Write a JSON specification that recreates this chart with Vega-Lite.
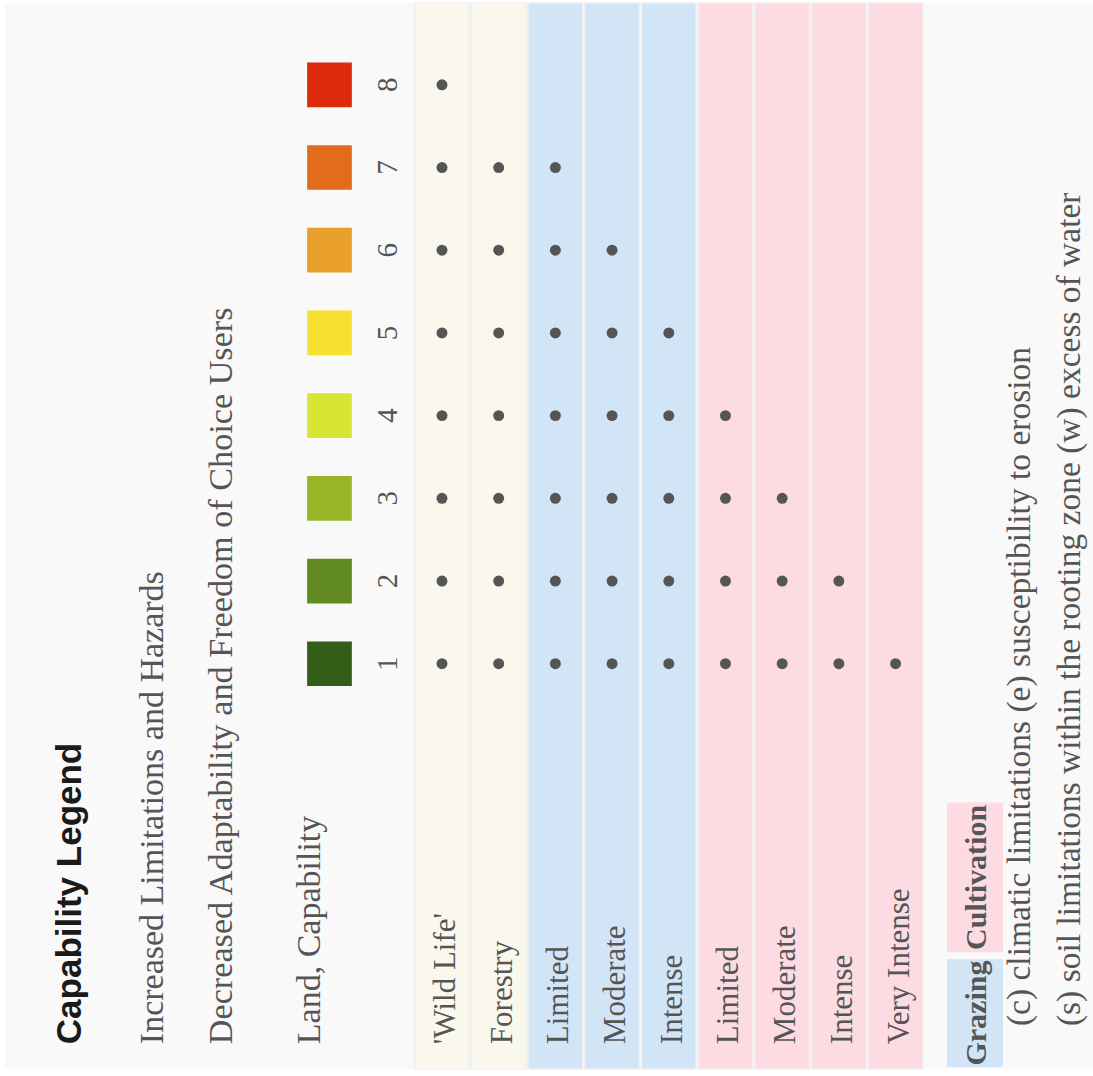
{
  "$schema": "https://vega.github.io/schema/vega-lite/v6.json",
  "width": 1093,
  "height": 1076,
  "autosize": {"type": "fit", "contains": "padding"},
  "padding": {"left": 5, "top": 2, "right": 0, "bottom": 6},
  "background": "#ffffff",
  "config": {"view": {"stroke": null, "fill": "#f9f9f9"}},
  "datasets": {
    "uses": [
      {"use": "'Wild Life'", "group": "Other", "col": 1},
      {"use": "Forestry", "group": "Other", "col": 2},
      {"use": "Limited", "group": "Grazing", "col": 3},
      {"use": "Moderate", "group": "Grazing", "col": 4},
      {"use": "Intense", "group": "Grazing", "col": 5},
      {"use": "Limited", "group": "Cultivation", "col": 6},
      {"use": "Moderate", "group": "Cultivation", "col": 7},
      {"use": "Intense", "group": "Cultivation", "col": 8},
      {"use": "Very Intense", "group": "Cultivation", "col": 9}
    ],
    "classes": [
      {"class": 1}, {"class": 2}, {"class": 3}, {"class": 4},
      {"class": 5}, {"class": 6}, {"class": 7}, {"class": 8}
    ],
    "suitable": [
      {"class": 1, "col": 1}, {"class": 1, "col": 2}, {"class": 1, "col": 3}, {"class": 1, "col": 4}, {"class": 1, "col": 5}, {"class": 1, "col": 6}, {"class": 1, "col": 7}, {"class": 1, "col": 8}, {"class": 1, "col": 9},
      {"class": 2, "col": 1}, {"class": 2, "col": 2}, {"class": 2, "col": 3}, {"class": 2, "col": 4}, {"class": 2, "col": 5}, {"class": 2, "col": 6}, {"class": 2, "col": 7}, {"class": 2, "col": 8},
      {"class": 3, "col": 1}, {"class": 3, "col": 2}, {"class": 3, "col": 3}, {"class": 3, "col": 4}, {"class": 3, "col": 5}, {"class": 3, "col": 6}, {"class": 3, "col": 7},
      {"class": 4, "col": 1}, {"class": 4, "col": 2}, {"class": 4, "col": 3}, {"class": 4, "col": 4}, {"class": 4, "col": 5}, {"class": 4, "col": 6},
      {"class": 5, "col": 1}, {"class": 5, "col": 2}, {"class": 5, "col": 3}, {"class": 5, "col": 4}, {"class": 5, "col": 5},
      {"class": 6, "col": 1}, {"class": 6, "col": 2}, {"class": 6, "col": 3}, {"class": 6, "col": 4},
      {"class": 7, "col": 1}, {"class": 7, "col": 2}, {"class": 7, "col": 3},
      {"class": 8, "col": 1}
    ],
    "key": [
      {"group": "Grazing", "lo": -3.876, "hi": -2.572, "mid": -3.224},
      {"group": "Cultivation", "lo": -2.488, "hi": -0.678, "mid": -1.583}
    ]
  },
  "layer": [
    {
      "data": {"name": "uses"},
      "mark": {"type": "rect", "xOffset": -27.3, "x2Offset": 27.3, "stroke": "#efefef", "strokeWidth": 1.5},
      "encoding": {
        "x": {"field": "col", "type": "quantitative", "scale": {"domain": [-6.707, 12.482], "nice": false, "zero": false}, "axis": null},
        "x2": {"field": "col"},
        "y": {"datum": -3.9, "type": "quantitative", "scale": {"domain": [-3.9, 8.989], "nice": false, "zero": false}, "axis": null},
        "y2": {"datum": 8.989},
        "color": {"field": "group", "type": "nominal", "scale": {"domain": ["Other", "Grazing", "Cultivation"], "range": ["#faf8ec", "#d1e5f7", "#fcdce2"]}, "legend": null}
      }
    },
    {
      "data": {"name": "suitable"},
      "mark": {"type": "point", "filled": true, "size": 120, "color": "#555555", "opacity": 1},
      "encoding": {
        "x": {"field": "col", "type": "quantitative"},
        "y": {"field": "class", "type": "quantitative"}
      }
    },
    {
      "data": {"name": "classes"},
      "mark": {"type": "point", "shape": "square", "filled": true, "size": 2000, "opacity": 1},
      "encoding": {
        "x": {"datum": -0.984, "type": "quantitative"},
        "y": {"field": "class", "type": "quantitative"},
        "fill": {"field": "class", "type": "ordinal", "scale": {"domain": [1, 2, 3, 4, 5, 6, 7, 8], "range": ["#345e18", "#628a22", "#98b52a", "#d9e534", "#f8e032", "#e8a02a", "#e06c1c", "#dc2a0c"]}, "legend": null}
      }
    },
    {
      "data": {"name": "classes"},
      "mark": {"type": "text", "angle": 270, "align": "center", "baseline": "alphabetic", "font": "Liberation Serif", "fontSize": 29, "color": "#555555"},
      "encoding": {
        "x": {"datum": 0.206, "type": "quantitative"},
        "y": {"field": "class", "type": "quantitative"},
        "text": {"field": "class", "type": "nominal"}
      }
    },
    {
      "data": {"name": "uses"},
      "mark": {"type": "text", "angle": 270, "align": "left", "baseline": "alphabetic", "dy": 13, "font": "Liberation Serif", "fontSize": 31, "color": "#555555"},
      "encoding": {
        "x": {"field": "col", "type": "quantitative"},
        "y": {"datum": -3.6, "type": "quantitative"},
        "text": {"field": "use", "type": "nominal"}
      }
    },
    {
      "data": {"values": [{"label": "Capability Legend"}]},
      "mark": {"type": "text", "angle": 270, "align": "left", "baseline": "alphabetic", "font": "Liberation Sans", "fontWeight": "bold", "fontSize": 35, "color": "#1a1a1a"},
      "encoding": {
        "x": {"datum": -5.367, "type": "quantitative"},
        "y": {"datum": -3.6, "type": "quantitative"},
        "text": {"field": "label", "type": "nominal"}
      }
    },
    {
      "data": {"values": [{"label": "Increased Limitations and Hazards"}]},
      "mark": {"type": "text", "angle": 270, "align": "left", "baseline": "alphabetic", "font": "Liberation Serif", "fontSize": 34, "color": "#555555"},
      "encoding": {
        "x": {"datum": -3.921, "type": "quantitative"},
        "y": {"datum": -3.6, "type": "quantitative"},
        "text": {"field": "label", "type": "nominal"}
      }
    },
    {
      "data": {"values": [{"label": "Decreased Adaptability and Freedom of Choice Users"}]},
      "mark": {"type": "text", "angle": 270, "align": "left", "baseline": "alphabetic", "font": "Liberation Serif", "fontSize": 34.2, "color": "#555555"},
      "encoding": {
        "x": {"datum": -2.704, "type": "quantitative"},
        "y": {"datum": -3.6, "type": "quantitative"},
        "text": {"field": "label", "type": "nominal"}
      }
    },
    {
      "data": {"values": [{"label": "Land, Capability"}]},
      "mark": {"type": "text", "angle": 270, "align": "left", "baseline": "alphabetic", "font": "Liberation Serif", "fontSize": 34, "color": "#555555"},
      "encoding": {
        "x": {"datum": -1.152, "type": "quantitative"},
        "y": {"datum": -3.6, "type": "quantitative"},
        "text": {"field": "label", "type": "nominal"}
      }
    },
    {
      "data": {"name": "key"},
      "mark": {"type": "rect"},
      "encoding": {
        "x": {"datum": 9.907, "type": "quantitative"},
        "x2": {"datum": 10.894},
        "y": {"field": "lo", "type": "quantitative"},
        "y2": {"field": "hi"},
        "color": {"field": "group", "type": "nominal"}
      }
    },
    {
      "data": {"name": "key"},
      "mark": {"type": "text", "angle": 270, "align": "center", "baseline": "alphabetic", "font": "Liberation Serif", "fontWeight": "bold", "fontSize": 30, "color": "#555555"},
      "encoding": {
        "x": {"datum": 10.594, "type": "quantitative"},
        "y": {"field": "mid", "type": "quantitative"},
        "text": {"field": "group", "type": "nominal"}
      }
    },
    {
      "data": {"values": [{"label": "(c) climatic limitations (e) susceptibility to erosion"}]},
      "mark": {"type": "text", "angle": 270, "align": "left", "baseline": "alphabetic", "font": "Liberation Serif", "fontSize": 33.5, "color": "#555555"},
      "encoding": {
        "x": {"datum": 11.37, "type": "quantitative"},
        "y": {"datum": -3.381, "type": "quantitative"},
        "text": {"field": "label", "type": "nominal"}
      }
    },
    {
      "data": {"values": [{"label": "(s) soil limitations within the rooting zone (w) excess of water"}]},
      "mark": {"type": "text", "angle": 270, "align": "left", "baseline": "alphabetic", "font": "Liberation Serif", "fontSize": 33.5, "color": "#555555"},
      "encoding": {
        "x": {"datum": 12.252, "type": "quantitative"},
        "y": {"datum": -3.381, "type": "quantitative"},
        "text": {"field": "label", "type": "nominal"}
      }
    }
  ]
}
